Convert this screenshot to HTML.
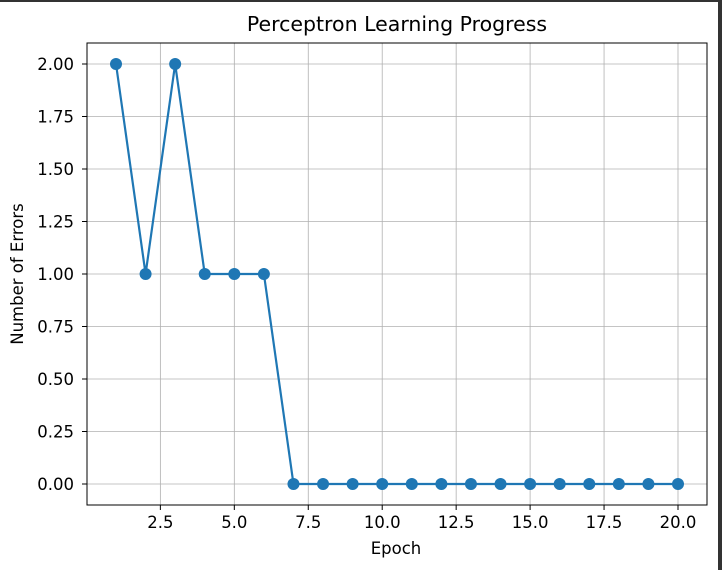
<!DOCTYPE html>
<html><head><meta charset="utf-8"><style>
body{margin:0;background:#fff;}
svg{display:block;font-family:"DejaVu Sans","Liberation Sans",sans-serif;}
</style></head><body>
<svg width="722" height="570">
<rect x="0" y="0" width="722" height="2" fill="#333"/>
<rect x="718" y="0" width="4" height="570" fill="#333"/>
<g id="grid"></g>
<g id="ticks"></g>
<g id="series"></g>
<rect x="87" y="43" width="620" height="462" fill="none" stroke="#000" stroke-width="1"/>
<text x="397" y="31" text-anchor="middle" font-size="20.5">Perceptron Learning Progress</text>
<text x="396" y="554" text-anchor="middle" font-size="16.5">Epoch</text>
<text transform="translate(23,274) rotate(-90)" text-anchor="middle" font-size="16.5">Number of Errors</text>
</svg>
<script>
const epochs=[1,2,3,4,5,6,7,8,9,10,11,12,13,14,15,16,17,18,19,20];
const errors=[2,1,2,1,1,1,0,0,0,0,0,0,0,0,0,0,0,0,0,0];
const xTicks=[2.5,5.0,7.5,10.0,12.5,15.0,17.5,20.0];
const yTicks=[0,0.25,0.5,0.75,1.0,1.25,1.5,1.75,2.0];
const NS="http://www.w3.org/2000/svg";
function sx(v){return 116+(v-1)*(678-116)/19;}
function sy(v){return 484-v*210;}
const grid=document.getElementById('grid'),ticks=document.getElementById('ticks'),ser=document.getElementById('series');
function mk(p,tag,a){const e=document.createElementNS(NS,tag);for(const k in a)e.setAttribute(k,a[k]);p.appendChild(e);return e;}
xTicks.forEach(t=>{const x=sx(t);
 const g=mk(grid,'line',{x1:x,x2:x,y1:43,y2:505,stroke:'#b0b0b0','stroke-width':0.8});
 
 
 const tk=mk(ticks,'line',{x1:x,x2:x,y1:505,y2:510,stroke:'#000'});
 
 
 const l=mk(ticks,'text',{x:x,y:528,'text-anchor':'middle','font-size':16.5});l.textContent=t.toFixed(1);
 
 
});
yTicks.forEach(t=>{const y=sy(t);
 const g=mk(grid,'line',{x1:87,x2:707,y1:y,y2:y,stroke:'#b0b0b0','stroke-width':0.8});
 
 
 const tk=mk(ticks,'line',{x1:82,x2:87,y1:y,y2:y,stroke:'#000'});
 
 
 const l=mk(ticks,'text',{x:74,y:y+6,'text-anchor':'end','font-size':16.5});l.textContent=t.toFixed(2);
 
 
});
const pl=mk(ser,'polyline',{points:epochs.map((e,i)=>sx(e)+','+sy(errors[i])).join(' '),fill:'none',stroke:'#1f77b4','stroke-width':2.2});


epochs.forEach((e,i)=>{const c=mk(ser,'circle',{cx:sx(e),cy:sy(errors[i]),r:6,fill:'#1f77b4'});
 
 
});
</script>
</body></html>
